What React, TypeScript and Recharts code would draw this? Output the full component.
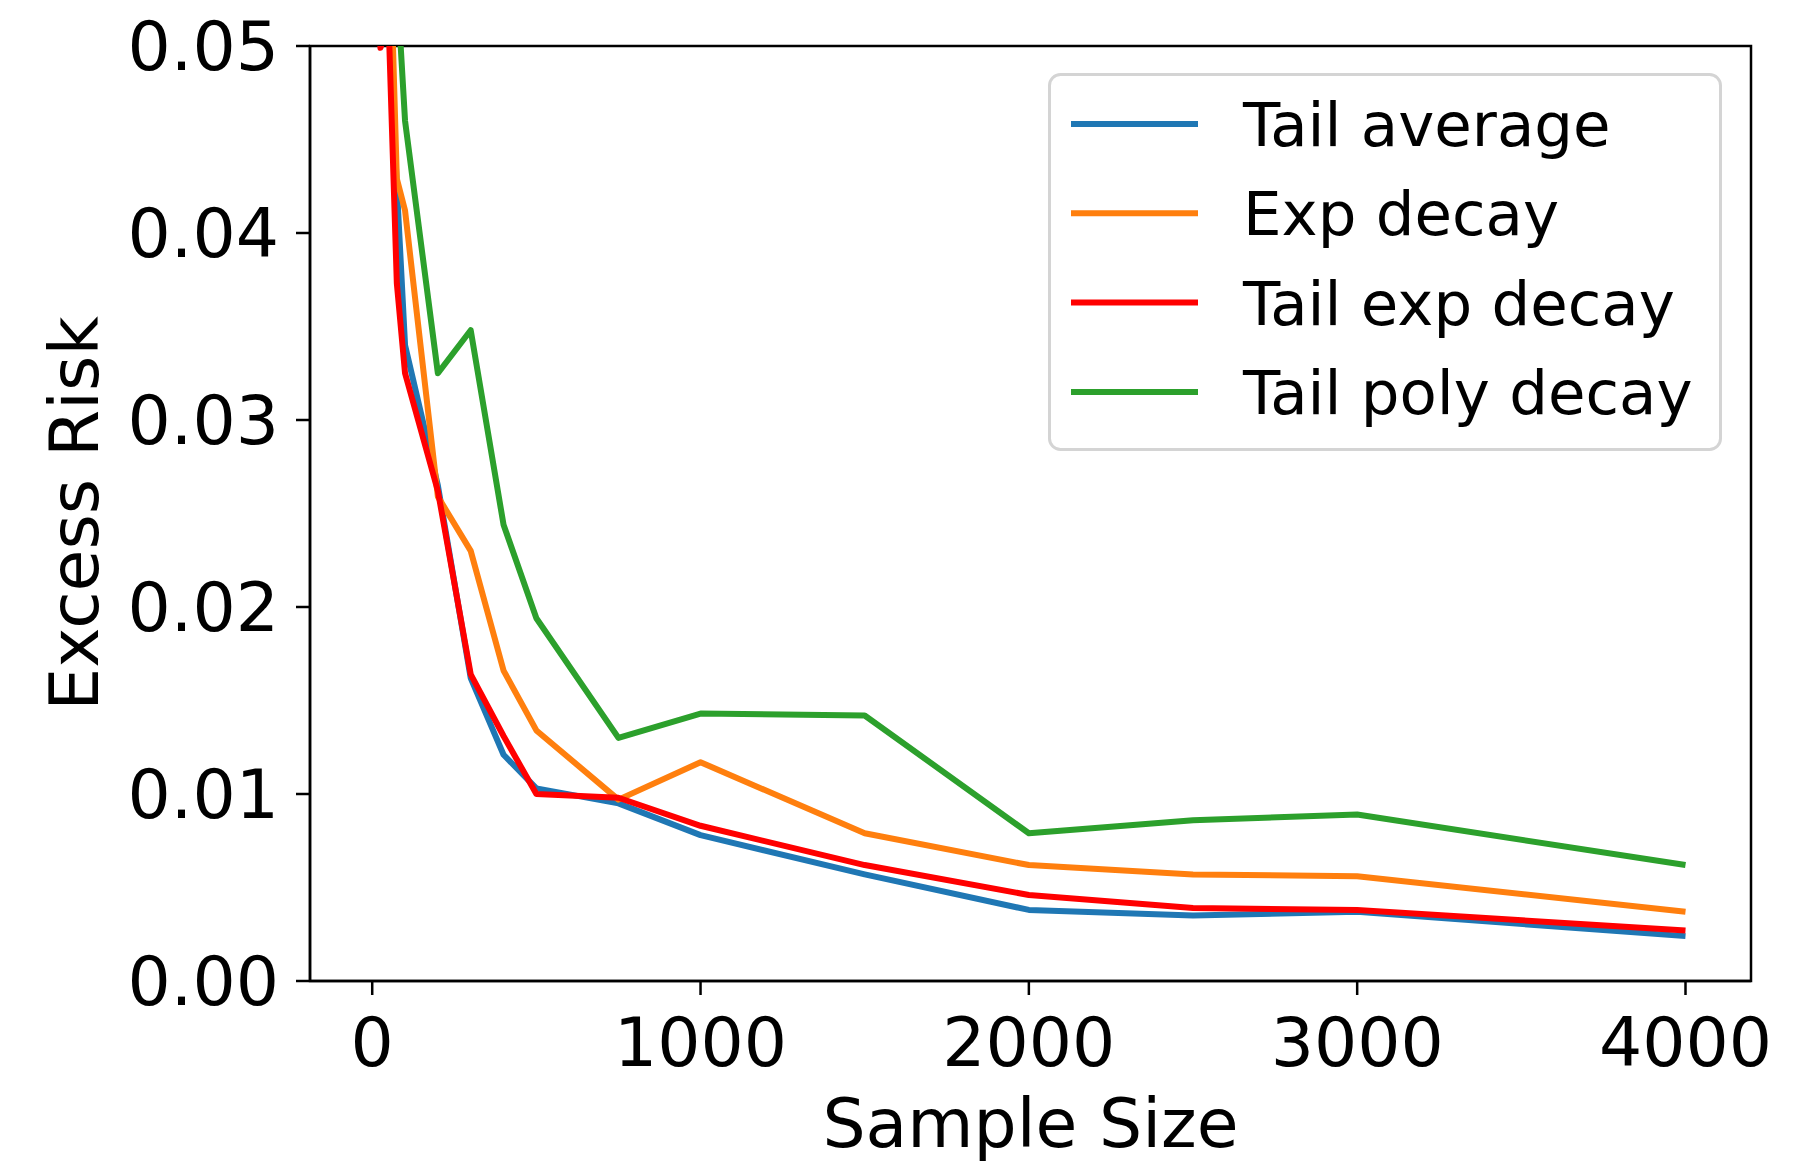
import { LineChart, Line, XAxis, YAxis, Legend, ReferenceArea } from "recharts"

const sampleSizes = [10, 25, 50, 75, 100, 200, 300, 400, 500, 750, 1000, 1500, 2000, 2500, 3000, 4000]
const tailAverage = [0.085, 0.065, 0.052, 0.0425, 0.034, 0.0265, 0.0162, 0.0121, 0.0103, 0.0095, 0.0078, 0.0057, 0.0038, 0.0035, 0.0037, 0.0024]
const expDecay = [0.095, 0.075, 0.058, 0.0429, 0.0412, 0.0259, 0.023, 0.0166, 0.0134, 0.0097, 0.0117, 0.0079, 0.0062, 0.0057, 0.0056, 0.0037]
const tailExpDecay = [0.062, 0.0499, 0.0512, 0.0373, 0.0325, 0.0262, 0.0164, 0.0131, 0.01, 0.0098, 0.0083, 0.0062, 0.0046, 0.0039, 0.0038, 0.0027]
const tailPolyDecay = [0.11, 0.085, 0.066, 0.0535, 0.046, 0.0325, 0.0348, 0.0244, 0.0194, 0.013, 0.0143, 0.0142, 0.0079, 0.0086, 0.0089, 0.0062]

const xTicks = [0, 1000, 2000, 3000, 4000]
const yTicks = [0, 0.01, 0.02, 0.03, 0.04, 0.05]

const series = [
    { key: "tailAverage", name: "Tail average", color: "#1f77b4", values: tailAverage },
    { key: "expDecay", name: "Exp decay", color: "#ff7f0e", values: expDecay },
    { key: "tailExpDecay", name: "Tail exp decay", color: "#ff0000", values: tailExpDecay },
    { key: "tailPolyDecay", name: "Tail poly decay", color: "#2ca02c", values: tailPolyDecay },
]

const data = sampleSizes.map((n, i) => {
    const row: Record<string, number> = { n }
    series.forEach((s) => {
        row[s.key] = s.values[i]
    })
    return row
})

// matplotlib-style 5% padding around the x data range
const xPad = (sampleSizes[sampleSizes.length - 1] - sampleSizes[0]) * 0.05
const xMin = sampleSizes[0] - xPad
const xMax = sampleSizes[sampleSizes.length - 1] + xPad

const font = "'DejaVu Sans', sans-serif"

const seriesOrder = (name: string) => series.findIndex((s) => s.name === name)

const renderLegend = (props: any) => {
    const payload = [...(props.payload || [])].sort((a: any, b: any) => seriesOrder(a.value) - seriesOrder(b.value))
    return (
        <svg width={674} height={380}>
            <rect x={1.5} y={1.5} width={671} height={375} rx={11} fill="rgba(255,255,255,0.8)" stroke="#d4d4d4" strokeWidth={3} />
            {payload.map((entry: any, i: number) => (
                <g key={entry.value}>
                    <line x1={23} x2={150} y1={51 + i * 89.3} y2={51 + i * 89.3} stroke={entry.color} strokeWidth={6} />
                    <text x={195} y={73 + i * 89.3} fontSize={61} fontFamily={font} fill="#000">
                        {entry.value}
                    </text>
                </g>
            ))}
        </svg>
    )
}

const YLabel = (props: any) => {
    const vb = props.viewBox
    const x = 98
    const y = vb.y + vb.height / 2
    return (
        <text x={x} y={y} transform={`rotate(-90, ${x}, ${y})`} textAnchor="middle" fontSize={68} fontFamily={font} fill="#000">
            Excess Risk
        </text>
    )
}

const XLabel = (props: any) => {
    const vb = props.viewBox
    return (
        <text x={vb.x + vb.width / 2} y={1147} textAnchor="middle" fontSize={68} fontFamily={font} fill="#000">
            Sample Size
        </text>
    )
}

export default function App() {
    return (
        <div style={{ position: "absolute", left: 0, top: 0, background: "#fff" }}>
            <LineChart width={1808} height={1162} data={data} margin={{ top: 46, right: 57, bottom: 0, left: 0 }}>
                <XAxis
                    dataKey="n"
                    type="number"
                    domain={[xMin, xMax]}
                    ticks={xTicks}
                    allowDataOverflow
                    height={181}
                    stroke="#000"
                    strokeWidth={2.5}
                    tickSize={14}
                    tickMargin={23}
                    tick={{ fontSize: 68, fontFamily: font, fill: "#000" }}
                    label={<XLabel />}
                />
                <YAxis
                    type="number"
                    domain={[0, 0.05]}
                    ticks={yTicks}
                    allowDataOverflow
                    width={310}
                    stroke="#000"
                    strokeWidth={2.5}
                    tickSize={14}
                    tickMargin={17}
                    tickFormatter={(v: number) => v.toFixed(2)}
                    tick={{ fontSize: 68, fontFamily: font, fill: "#000" }}
                    label={<YLabel />}
                />
                <ReferenceArea x1={xMin} x2={xMax} y1={0} y2={0.05} fill="none" stroke="#000" strokeWidth={2.5} ifOverflow="visible" />
                {series.map((s) => (
                    <Line
                        key={s.key}
                        type="linear"
                        dataKey={s.key}
                        name={s.name}
                        stroke={s.color}
                        strokeWidth={6}
                        strokeLinejoin="round"
                        dot={false}
                        isAnimationActive={false}
                    />
                ))}
                <Legend
                    layout="horizontal"
                    verticalAlign="middle"
                    align="center"
                    content={renderLegend}
                    wrapperStyle={{ left: 1048, top: 73, width: 674, height: 380 }}
                />
            </LineChart>
        </div>
    )
}
